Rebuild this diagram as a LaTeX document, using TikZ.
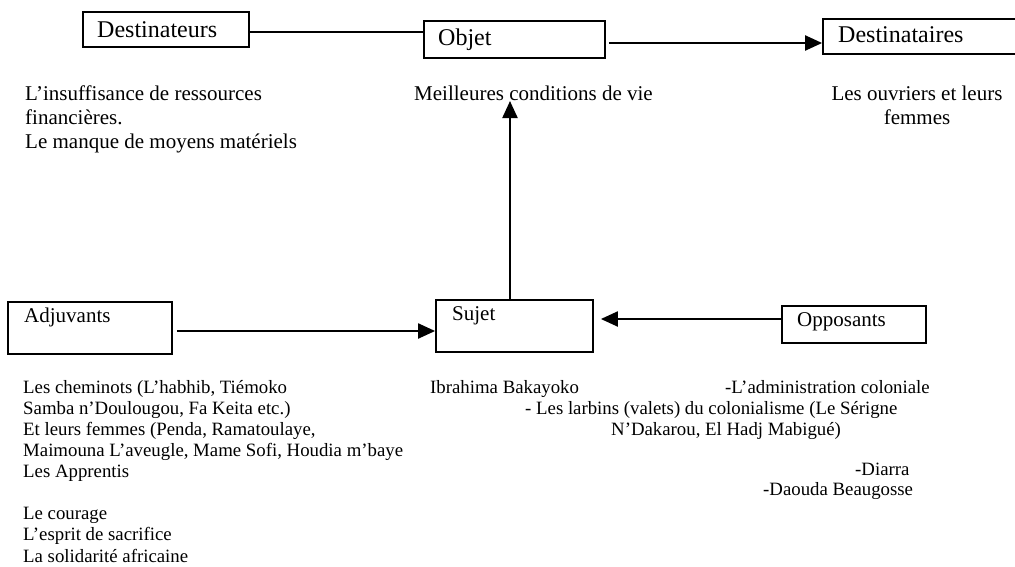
\documentclass[tikz,border=0pt]{standalone}
\usepackage{fontspec}
\setmainfont{Liberation Serif}
\usetikzlibrary{arrows.meta,positioning,calc}
\tikzset{
  actbox/.style={draw, line width=1.8pt, inner sep=0pt},
  biglabel/.style={font=\fontsize{24}{28}\selectfont, anchor=base west, inner sep=0pt},
  boxlabel/.style={font=\fontsize{21}{24}\selectfont, anchor=base west, inner sep=0pt},
  toptext/.style={font=\fontsize{21}{24}\selectfont, inner sep=0pt},
  bottext/.style={font=\fontsize{18.8}{21.1}\selectfont, inner sep=0pt},
  actarrow/.style={line width=2.2pt, -{Triangle[length=17pt,width=15pt]}},
  thinlink/.style={line width=1.4pt},
}
\begin{document}
\begin{tikzpicture}[x=1pt, y=-1pt]
\useasboundingbox (0,0) rectangle (1015,566);
\clip (0,0) rectangle (1015,566);

% --- Upper row ---
\node[actbox, minimum width=166, minimum height=35] (dest) at (166,29.5) {};
\node[biglabel] (desttxt) at (97,37) {Destinateurs};

\node[actbox, minimum width=181, minimum height=37] (obj) at (514.5,39.5) {};
\node[biglabel] (objtxt) at (438,45) {Objet};

\node[actbox, minimum width=197, minimum height=35] (destin) at (921.5,36.5) {};
\node[biglabel] (destintxt) at (838,42) {Destinataires};

\draw[thinlink] ($(dest.east)+(0,2.5)$) -- ($(dest.east -| obj.west)+(0,2.5)$);
\draw[actarrow] ($(obj.east)+(3,3.5)$) -- ($(obj.east -| destin.west)+(0,3.5)$);

% Texts under the upper row
\node[toptext, anchor=north west, align=left] (manque) at (25,86)
  {L’insuffisance de ressources\\financières.\\Le manque de moyens matériels};
\node[toptext, anchor=base west] (vie) at (414,100) {Meilleures conditions de vie};
\node[toptext, anchor=north, align=center] (ouvriers) at (917,86)
  {Les ouvriers et leurs\\femmes};

% --- Lower row ---
\node[actbox, minimum width=164, minimum height=52] (adj) at (90,328) {};
\node[boxlabel] (adjtxt) at (24,322) {Adjuvants};

\node[actbox, minimum width=157, minimum height=52] (sujet) at (514.5,326) {};
\node[boxlabel] (sujettxt) at (452,320) {Sujet};

\node[actbox, minimum width=144, minimum height=37] (opp) at (854,324.5) {};
\node[boxlabel] (opptxt) at (797,326) {Opposants};

\coordinate (objtip) at (510,101);
\draw[actarrow] (sujet.north -| objtip) -- (objtip);
\draw[actarrow] ($(adj.east)+(4,3)$) -- ($(adj.east -| sujet.west)+(0,3)$);
\draw[actarrow] ($(opp.west)+(0,-5.5)$) -- ($(opp.west -| sujet.east)+(7,-5.5)$);

% Texts under the lower row
\node[bottext, anchor=north west, align=left] (cheminots) at (23,380)
  {Les cheminots (L’habhib, Tiémoko\\
   Samba n’Doulougou, Fa Keita etc.)\\
   Et leurs femmes (Penda, Ramatoulaye,\\
   Maimouna L’aveugle, Mame Sofi, Houdia m’baye\\
   Les Apprentis\\[21.1pt]
   Le courage\\
   L’esprit de sacrifice\\
   La solidarité africaine};
\node[bottext, anchor=base west] (ibrahima) at (430,393) {Ibrahima Bakayoko};

\node[bottext, anchor=base west] (admin) at (725,393) {-L’administration coloniale};
\node[bottext, anchor=base west] (larbins) at (525,414) {- Les larbins (valets) du colonialisme (Le Sérigne};
\node[bottext, anchor=base west] (dakarou) at (611,435) {N’Dakarou, El Hadj Mabigué)};
\node[bottext, anchor=base west] (diarra) at (855,475) {-Diarra};
\node[bottext, anchor=base west] (daouda) at (763,495) {-Daouda Beaugosse};

\end{tikzpicture}
\end{document}
